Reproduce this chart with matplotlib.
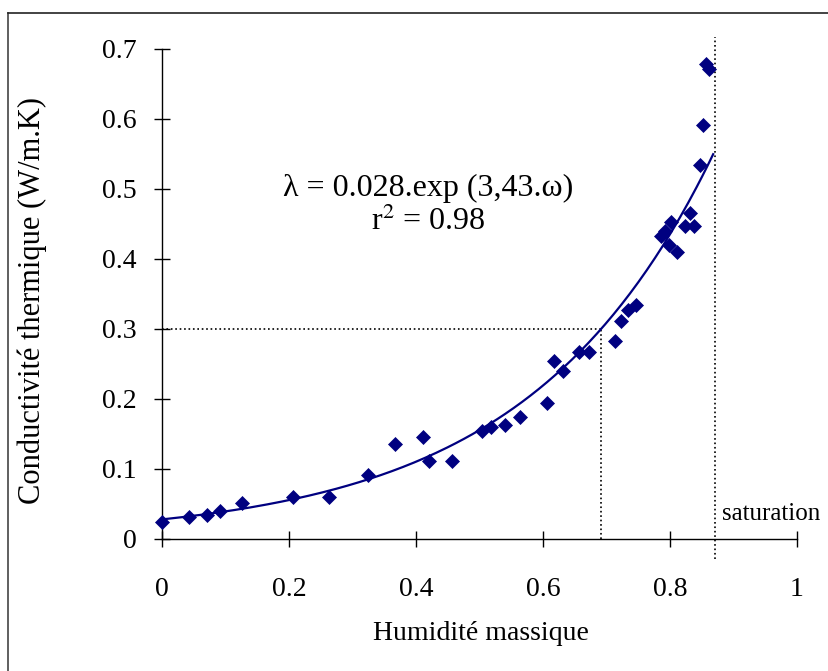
import numpy as np
import matplotlib
matplotlib.use("Agg")
import matplotlib.pyplot as plt
from matplotlib.lines import Line2D

plt.rcParams['font.family'] = ['Liberation Serif', 'DejaVu Serif']
plt.rcParams['mathtext.fontset'] = 'stix'

# Humidité massique (omega) et conductivité thermique mesurée (W/m.K)
humidite = [0.000, 0.043, 0.071, 0.091, 0.126, 0.206, 0.263, 0.324, 0.367,
            0.411, 0.420, 0.457, 0.504, 0.518, 0.540, 0.563, 0.606, 0.617,
            0.631, 0.657, 0.672, 0.713, 0.723, 0.734, 0.747, 0.786, 0.792,
            0.798, 0.801, 0.811, 0.824, 0.832, 0.838, 0.847, 0.852, 0.857,
            0.861]
conductivite = [0.024, 0.031, 0.034, 0.040, 0.051, 0.060, 0.060, 0.091, 0.136,
                0.146, 0.111, 0.111, 0.154, 0.160, 0.163, 0.174, 0.194, 0.254,
                0.240, 0.267, 0.267, 0.283, 0.311, 0.327, 0.334, 0.433, 0.440,
                0.420, 0.453, 0.410, 0.447, 0.466, 0.447, 0.534, 0.591, 0.679,
                0.671]

# modele exponentiel affiche sur le graphe
A_FIT = 0.028
B_FIT = 3.43
X_FIT_MAX = 0.868

# reperes
LAMBDA_REF = 0.3
OMEGA_REF = 0.691
OMEGA_SAT = 0.871

x_ticks = [0, 0.2, 0.4, 0.6, 0.8, 1]
x_ticklabels = ['0', '0.2', '0.4', '0.6', '0.8', '1']
y_ticks = [0, 0.1, 0.2, 0.3, 0.4, 0.5, 0.6, 0.7]
y_ticklabels = ['0', '0.1', '0.2', '0.3', '0.4', '0.5', '0.6', '0.7']

W, H = 829, 671
fig = plt.figure(figsize=(W / 100, H / 100), dpi=100)
ax = fig.add_axes([162 / W, 1 - 539 / H, 635 / W, 490 / H])

navy = '#000080'

# courbe de tendance
xf = np.linspace(0, X_FIT_MAX, 200)
ax.plot(xf, A_FIT * np.exp(B_FIT * xf), color=navy, lw=1.6, zorder=3)

# points mesures
ax.plot(humidite, conductivite, linestyle='none', marker='D', ms=7.5,
        mfc=navy, mec=navy, mew=0.5, zorder=4, clip_on=False)

# lignes pointillees
ax.plot([0, OMEGA_REF], [LAMBDA_REF, LAMBDA_REF], color='black', ls=':', lw=1.2)
ax.plot([OMEGA_REF, OMEGA_REF], [0, LAMBDA_REF], color='black', ls=':', lw=1.2)
ax.plot([OMEGA_SAT, OMEGA_SAT], [-0.028, 0.717], color='black', ls=':', lw=1.2,
        clip_on=False)

ax.text(0.882, 0.035, 'saturation', fontsize=18, ha='left', va='center')
ax.text(0.419, 0.501, 'λ = 0.028.exp (3,43.ω)', fontsize=23, ha='center',
        va='center')
ax.text(0.419, 0.453, 'r$^{2}$ = 0.98', fontsize=23, ha='center', va='center')

ax.set_xlim(0, 1)
ax.set_ylim(0, 0.7)
ax.set_xticks(x_ticks)
ax.set_xticklabels(x_ticklabels)
ax.set_yticks(y_ticks)
ax.set_yticklabels(y_ticklabels)
ax.tick_params(axis='both', direction='inout', length=12, width=1.0,
               labelsize=20, color='black')
ax.tick_params(axis='x', pad=21)
ax.tick_params(axis='y', pad=12)

for side in ['top', 'right']:
    ax.spines[side].set_visible(False)
for side in ['left', 'bottom']:
    ax.spines[side].set_linewidth(1.0)

fig.text(32 / W, 1 - 300 / H, 'Conductivité thermique (W/m.K)', fontsize=22,
         rotation=90, ha='center', va='center')
fig.text(481 / W, 1 - 634 / H, 'Humidité massique', fontsize=20,
         ha='center', va='center')

# cadre exterieur
fig.add_artist(Line2D([8 / W, 8 / W], [0, 1 - 13 / H], color='#444444', lw=1.2))
fig.add_artist(Line2D([8 / W, 1], [1 - 13 / H, 1 - 13 / H], color='#222222',
                      lw=1.2))

fig.savefig('out.png', dpi=100)
